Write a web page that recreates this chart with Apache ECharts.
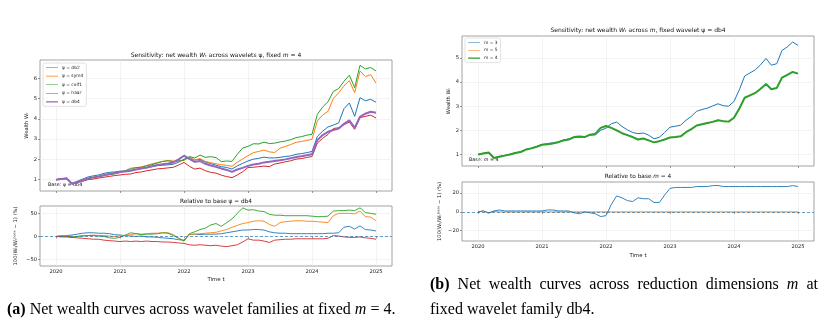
<!DOCTYPE html>
<html><head><meta charset="utf-8">
<script src="https://cdn.jsdelivr.net/npm/echarts@6/dist/echarts.min.js"></script>
<style>html,body{margin:0;padding:0;background:#fff;}#c{width:828px;height:323px;}</style>
</head><body><div id="c"></div>
<script>
// ---------- data ----------
const dates = ['2020-01','2020-02','2020-03','2020-04','2020-05','2020-06','2020-07','2020-08','2020-09','2020-10','2020-11','2020-12',
'2021-01','2021-02','2021-03','2021-04','2021-05','2021-06','2021-07','2021-08','2021-09','2021-10','2021-11','2021-12',
'2022-01','2022-02','2022-03','2022-04','2022-05','2022-06','2022-07','2022-08','2022-09','2022-10','2022-11','2022-12',
'2023-01','2023-02','2023-03','2023-04','2023-05','2023-06','2023-07','2023-08','2023-09','2023-10','2023-11','2023-12',
'2024-01','2024-02','2024-03','2024-04','2024-05','2024-06','2024-07','2024-08','2024-09','2024-10','2024-11','2024-12',
'2025-01'];
const yearTicks = [2020, 2021, 2022, 2023, 2024, 2025];
const wealthTicksA = [1, 2, 3, 4, 5, 6];
const relTicksA = [-50, 0, 50];
const wealthTicksB = [1, 2, 3, 4, 5];
const relTicksB = [-20, 0, 20];

// (a) wealth across wavelets, m = 4
const waveletDb2 = [1.00,1.04,1.08,0.82,0.92,1.03,1.13,1.19,1.23,1.31,1.36,1.38,
 1.42,1.43,1.45,1.50,1.57,1.58,1.64,1.69,1.71,1.73,1.76,1.86,
 2.01,2.10,1.97,2.00,1.87,1.79,1.71,1.64,1.60,1.52,1.68,1.80,
 1.92,2.01,2.05,2.11,2.07,2.07,2.10,2.14,2.17,2.25,2.28,2.33,
 2.39,3.13,3.39,3.60,3.69,3.80,4.50,4.78,4.12,5.04,4.89,4.96,
 4.82];
const waveletSym4 = [1.00,1.04,1.07,0.79,0.88,0.98,1.07,1.13,1.17,1.24,1.29,1.33,
 1.39,1.43,1.50,1.59,1.63,1.70,1.78,1.84,1.90,1.94,1.92,1.92,
 1.96,2.10,1.97,2.04,1.90,1.84,1.78,1.74,1.70,1.66,1.86,2.02,
 2.18,2.33,2.39,2.46,2.37,2.34,2.55,2.64,2.73,2.84,2.88,2.93,
 2.99,3.89,4.19,4.37,5.00,5.28,5.63,5.88,5.29,6.36,6.08,6.18,
 5.76];
const waveletCoif1 = [1.00,1.04,1.06,0.78,0.88,0.97,1.07,1.12,1.16,1.22,1.24,1.28,
 1.35,1.44,1.56,1.59,1.61,1.68,1.74,1.82,1.90,1.93,1.89,1.92,
 1.96,2.14,2.07,2.21,2.10,2.13,2.09,1.89,1.92,1.90,2.25,2.56,
 2.64,2.77,2.76,2.85,2.78,2.80,2.86,2.90,2.97,3.07,3.12,3.19,
 3.24,4.22,4.58,4.84,5.35,5.49,5.85,6.15,5.54,6.64,6.46,6.53,
 6.36];
const waveletHaar = [1.00,1.02,1.05,0.78,0.85,0.92,1.00,1.03,1.08,1.12,1.16,1.20,
 1.23,1.26,1.28,1.35,1.38,1.44,1.48,1.53,1.55,1.58,1.61,1.72,
 1.85,1.66,1.52,1.57,1.44,1.36,1.32,1.22,1.15,1.10,1.23,1.39,
 1.60,1.61,1.64,1.67,1.64,1.77,1.82,1.88,1.93,2.01,2.04,2.09,
 2.14,2.80,3.04,3.23,3.52,3.56,3.71,3.84,3.48,4.06,4.12,4.18,
 4.04];
const waveletDb4 = [1.00,1.03,1.06,0.80,0.88,0.96,1.05,1.10,1.15,1.22,1.28,1.33,
 1.38,1.40,1.44,1.50,1.55,1.60,1.66,1.72,1.76,1.80,1.85,2.00,
 2.18,2.02,1.88,1.92,1.78,1.70,1.63,1.55,1.48,1.38,1.50,1.58,
 1.68,1.75,1.78,1.85,1.88,1.92,1.96,2.00,2.05,2.12,2.15,2.20,
 2.25,2.95,3.20,3.36,3.45,3.52,3.75,3.92,3.55,4.10,4.25,4.35,
 4.30];
// (a) relative to db4, %
const relDb2 = [0,1,2,3,5,7,8,8,7,7,6,4, 3,2,1,0,1,-1,-1,-2,-3,-4,-5,-7, -8,4,5,4,5,5,5,6,8,10,12,14,
 14,15,15,14,10,8,7,7,6,6,6,6, 6,6,6,7,7,8,20,22,16,23,15,14, 12];
const relSym4 = [0,1,1,-1,0,2,2,3,2,2,1,0, 1,2,4,6,5,6,7,7,8,8,4,-4, -10,4,5,6,7,8,9,12,15,20,24,28,
 30,33,34,33,26,22,30,32,33,34,34,33, 33,32,31,30,45,50,50,50,49,55,43,42, 34];
const relCoif1 = [0,1,0,-2,0,1,2,2,1,0,-3,-4, -2,3,8,6,4,5,5,6,8,7,2,-4, -10,6,10,15,18,25,28,22,30,38,50,62,
 57,58,55,54,48,46,46,45,45,45,45,45, 44,43,43,44,55,56,56,57,56,62,52,50, 48];
const relHaar = [0,-1,-1,-2,-3,-4,-5,-6,-6,-8,-9,-10, -11,-10,-11,-10,-11,-10,-11,-11,-12,-12,-13,-14,
 -15,-18,-19,-18,-19,-20,-19,-21,-22,-20,-18,-12, -5,-8,-8,-10,-13,-8,-7,-6,-6,-5,-5,-5,
 -5,-5,-5,-4,2,1,-1,-2,-2,-1,-3,-4, -6];

// (b) wealth across m, wavelet db4
const dimM3 = [1.00,1.05,1.07,0.86,0.92,0.96,1.01,1.07,1.11,1.21,1.26,1.33,
 1.41,1.45,1.48,1.52,1.60,1.64,1.70,1.71,1.72,1.80,1.81,2.00,
 2.09,2.27,2.34,2.16,2.02,1.91,1.86,1.89,1.80,1.65,1.71,1.91,
 2.13,2.17,2.21,2.42,2.58,2.79,2.86,2.92,3.01,3.10,3.02,3.00,
 3.20,3.68,4.25,4.38,4.51,4.72,4.98,4.70,4.76,5.31,5.46,5.66,
 5.52];
const dimM5 = [1.00,1.05,1.06,0.85,0.90,0.95,1.00,1.06,1.10,1.20,1.25,1.32,
 1.40,1.42,1.45,1.50,1.58,1.62,1.72,1.74,1.72,1.82,1.85,2.10,
 2.18,2.10,2.00,1.88,1.80,1.72,1.62,1.66,1.58,1.50,1.55,1.62,
 1.70,1.72,1.75,1.92,2.05,2.20,2.25,2.30,2.35,2.42,2.38,2.36,
 2.52,2.90,3.35,3.45,3.55,3.72,3.92,3.70,3.75,4.18,4.30,4.42,
 4.35];
const dimM4 = [1.00,1.04,1.08,0.85,0.90,0.95,1.00,1.06,1.10,1.20,1.25,1.32,
 1.40,1.42,1.45,1.50,1.58,1.62,1.72,1.74,1.72,1.82,1.85,2.10,
 2.18,2.10,2.00,1.88,1.80,1.72,1.62,1.66,1.58,1.50,1.55,1.62,
 1.70,1.72,1.75,1.92,2.05,2.20,2.25,2.30,2.35,2.42,2.38,2.36,
 2.52,2.90,3.35,3.45,3.55,3.72,3.92,3.70,3.75,4.18,4.30,4.42,
 4.35];
// (b) relative to m = 4, %
const relM3 = [0,1,-1,1,2,1,1,1,1,1,1,1, 1,2,2,1,1,1,-1,-2,0,-1,-2,-5, -4,8,17,15,12,11,15,14,14,10,10,18,
 25,26,26,26,26,27,27,27,28,28,27,27, 27,27,27,27,27,27,27,27,27,27,27,28, 27];
const relM5 = [0,1,-1.5,0.5,0,0,0,0,0,0,0,0, 0,0,0,0,0,0,0,0,0,0,0,0, 0,0,0,0,0,0,0,0,0,0,0,0,
 0,0,0,0,0,0,0,0,0,0,0,0, 0,0,0,0,0,0,0,0,0,0,0,0, 0];

// ---------- chart ----------
const FONT = 'DejaVu Sans';
const C = {blue:'#1f77b4', orange:'#ff7f0e', green:'#2ca02c', red:'#d62728', purple:'#9467bd'};
const xs = dates.map(s => { const p = s.split('-').map(Number); return p[0] + (p[1]-1)/12; });
const pairs = v => v.map((y,i) => [xs[i], y]);
const minus = v => String(v).replace('-', '\u2212');

function xAx(gi, showLabel, name, gap) {
  return {type:'value', gridIndex:gi, min:2019.75, max:2025.25,
    axisLine:{show:false},
    axisTick:{show:true, length:2, lineStyle:{color:'#555', width:0.6}, customValues:yearTicks},
    axisLabel:{show:showLabel, customValues:yearTicks, fontSize:5.2, color:'#222', fontFamily:FONT, margin:3,
      formatter:v => String(Math.round(v))},
    splitLine:{show:true, lineStyle:{color:'#ebebeb', width:0.6}},
    name:name||'', nameLocation:'middle', nameGap:gap||0,
    nameTextStyle:{fontSize:5.4, color:'#222', fontFamily:FONT}};
}
function yAx(gi, min, max, ticks, name, gap) {
  return {type:'value', gridIndex:gi, min:min, max:max,
    axisLine:{show:false},
    axisTick:{show:true, length:2, lineStyle:{color:'#555', width:0.6}, customValues:ticks},
    axisLabel:{customValues:ticks, fontSize:5.2, color:'#222', fontFamily:FONT, margin:3, formatter:minus},
    splitLine:{show:true, lineStyle:{color:'#ebebeb', width:0.6}},
    name:name, nameLocation:'middle', nameRotate:90, nameGap:gap,
    nameTextStyle:{fontSize:5.2, color:'#222', fontFamily:FONT}};
}
function line(name, data, color, w, xi, yi, z) {
  return {type:'line', name:name, data:pairs(data), xAxisIndex:xi, yAxisIndex:yi, showSymbol:false, symbol:'none',
    lineStyle:{color:color, width:w}, itemStyle:{color:color}, z:z||2, animation:false, silent:true};
}
const zeroLine = {silent:true, symbol:'none', label:{show:false}, data:[{yAxis:0}],
  lineStyle:{type:[3,2], color:C.blue, width:0.8, opacity:0.85}, animation:false};

const grids = [
  {left:40, top:60, width:352, height:131},
  {left:40, top:206, width:352, height:60},
  {left:462, top:36, width:352, height:130},
  {left:462, top:182, width:352, height:59}
].map(g => Object.assign(g, {show:true, borderColor:'#8a8a8a', borderWidth:0.8, backgroundColor:'#fff', containLabel:false}));

// legend handles: a horizontal band inside a 60x10 box (tiny corner specks fix the box)
const thinIcon = 'path://M0,0L0.01,0L0.01,0.01L0,0.01ZM0,3.5L60,3.5L60,6.5L0,6.5ZM59.99,9.99L60,9.99L60,10L59.99,10Z';
const thickIcon = 'path://M0,0L0.01,0L0.01,0.01L0,0.01ZM0,1.8L60,1.8L60,8.2L0,8.2ZM59.99,9.99L60,9.99L60,10L59.99,10Z';
const legendBase = {orient:'vertical', itemWidth:12, itemHeight:3.4, itemGap:4.6, padding:[2.5,3,2.5,3],
  backgroundColor:'rgba(255,255,255,0.85)', borderColor:'#cfcfcf', borderWidth:0.6, borderRadius:2,
  textStyle:{fontSize:4.4, color:'#222', fontFamily:FONT, padding:[0,0,0,-1]}, selectedMode:false, animation:false};

function txt(x, y, text, size, align, extra) {
  return Object.assign({type:'text', x:x, y:y, silent:true,
    style:Object.assign({text:text, fontSize:size, fontFamily:FONT, fill:'#111', align:align||'center', verticalAlign:'middle'}, extra||{})});
}
const serif = 'Liberation Serif';
const capRich = {b:{fontFamily:serif, fontSize:16, fontWeight:'bold', fill:'#000'},
                 r:{fontFamily:serif, fontSize:16, fill:'#000'},
                 i:{fontFamily:serif, fontSize:16, fontStyle:'italic', fill:'#000'}};
const titleRich = {i:{fontStyle:'italic', fontSize:6, fontFamily:FONT, fill:'#111'}};

// justified first caption line of (b): measure words, spread them over 430..818
const capWords = [['b','(b)'],['r','Net'],['r','wealth'],['r','curves'],['r','across'],
  ['r','reduction'],['r','dimensions'],['i','m'],['r','at']];
const mctx = document.createElement('canvas').getContext('2d');
const fontOf = k => (k==='b' ? 'bold ' : k==='i' ? 'italic ' : '') + '16px "Liberation Serif"';
const widths = capWords.map(w => { mctx.font = fontOf(w[0]); return mctx.measureText(w[1]).width; });
const lineL = 430, lineR = 818;
const gapW = (lineR - lineL - widths.reduce((a,b)=>a+b,0)) / (capWords.length - 1);
let cx = lineL;
const wordEls = capWords.map((w,i) => { const el = txt(cx, 285, '{'+w[0]+'|'+w[1]+'}', 16, 'left', {rich:capRich}); cx += widths[i] + gapW; return el; });

const legA = ['\u03C8 = db2','\u03C8 = sym4','\u03C8 = coif1','\u03C8 = haar','\u03C8 = db4'];
const legB = ['m = 3','m = 5','m = 4'];

const option = {
  animation:false,
  textStyle:{fontFamily:FONT},
  grid:grids,
  xAxis:[xAx(0,false), xAx(1,true,'Time t',11), xAx(2,false), xAx(3,true,'Time t',12)],
  yAxis:[
    yAx(0, 0.44, 6.9, wealthTicksA, 'Wealth W\u209C', 11),
    yAx(1, -64, 66, relTicksA, '100(W\u209C/W\u209C\u1D47\u1D43\u02E2\u1D49 \u2212 1) (%)', 22),
    yAx(2, 0.52, 5.91, wealthTicksB, 'Wealth W\u209C', 11),
    yAx(3, -31, 31.8, relTicksB, '100(W\u209C/W\u209C\u1D47\u1D43\u02E2\u1D49 \u2212 1) (%)', 20)
  ],
  legend:[
    Object.assign({}, legendBase, {left:43, top:63,
      data:legA.map((n,i) => ({name:n, icon: i===4 ? thickIcon : thinIcon}))}),
    Object.assign({}, legendBase, {left:465, top:38, itemGap:3.8,
      data:legB.map((n,i) => ({name:n, icon: i===2 ? thickIcon : thinIcon}))})
  ],
  series:[
    line(legA[0], waveletDb2, C.blue, 1, 0, 0),
    line(legA[1], waveletSym4, C.orange, 1, 0, 0),
    line(legA[2], waveletCoif1, C.green, 1, 0, 0),
    line(legA[3], waveletHaar, C.red, 1, 0, 0),
    line(legA[4], waveletDb4, C.purple, 2, 0, 0, 3),
    line('rel db2', relDb2, C.blue, 0.9, 1, 1),
    line('rel sym4', relSym4, C.orange, 0.9, 1, 1),
    line('rel coif1', relCoif1, C.green, 0.9, 1, 1),
    Object.assign(line('rel haar', relHaar, C.red, 0.9, 1, 1), {markLine:zeroLine}),
    line(legB[0], dimM3, C.blue, 1, 2, 2),
    line(legB[1], dimM5, C.orange, 1, 2, 2),
    line(legB[2], dimM4, C.green, 2, 2, 2, 3),
    line('rel m5', relM5, C.orange, 0.9, 3, 3),
    Object.assign(line('rel m3', relM3, C.blue, 0.9, 3, 3), {markLine:zeroLine})
  ],
  graphic:[
    txt(216, 55, 'Sensitivity: net wealth {i|W}\u209C across wavelets \u03C8, fixed {i|m} = 4', 6, 'center', {rich:titleRich}),
    txt(48, 184.5, 'Base: \u03C8 = db4', 4.8, 'left'),
    txt(216, 201.5, 'Relative to base \u03C8 = db4', 5.8),
    txt(638, 30, 'Sensitivity: net wealth {i|W}\u209C across {i|m}, fixed wavelet \u03C8 = db4', 6, 'center', {rich:titleRich}),
    txt(469, 159.5, 'Base: {i|m} = 4', 4.8, 'left', {rich:{i:{fontStyle:'italic', fontSize:4.8, fontFamily:FONT, fill:'#111'}}}),
    txt(638, 176, 'Relative to base {i|m} = 4', 5.8, 'center', {rich:{i:{fontStyle:'italic', fontSize:5.8, fontFamily:FONT, fill:'#111'}}}),
    txt(7, 310, '{b|(a)}{r| Net wealth curves across wavelet families at fixed }{i|m}{r| = 4.}', 16, 'left', {rich:capRich}),
    txt(430, 310, '{r|fixed wavelet family db4.}', 16, 'left', {rich:capRich})
  ].concat(wordEls)
};
const chart = echarts.init(document.getElementById('c'));
chart.setOption(option);
</script>
</body></html>
